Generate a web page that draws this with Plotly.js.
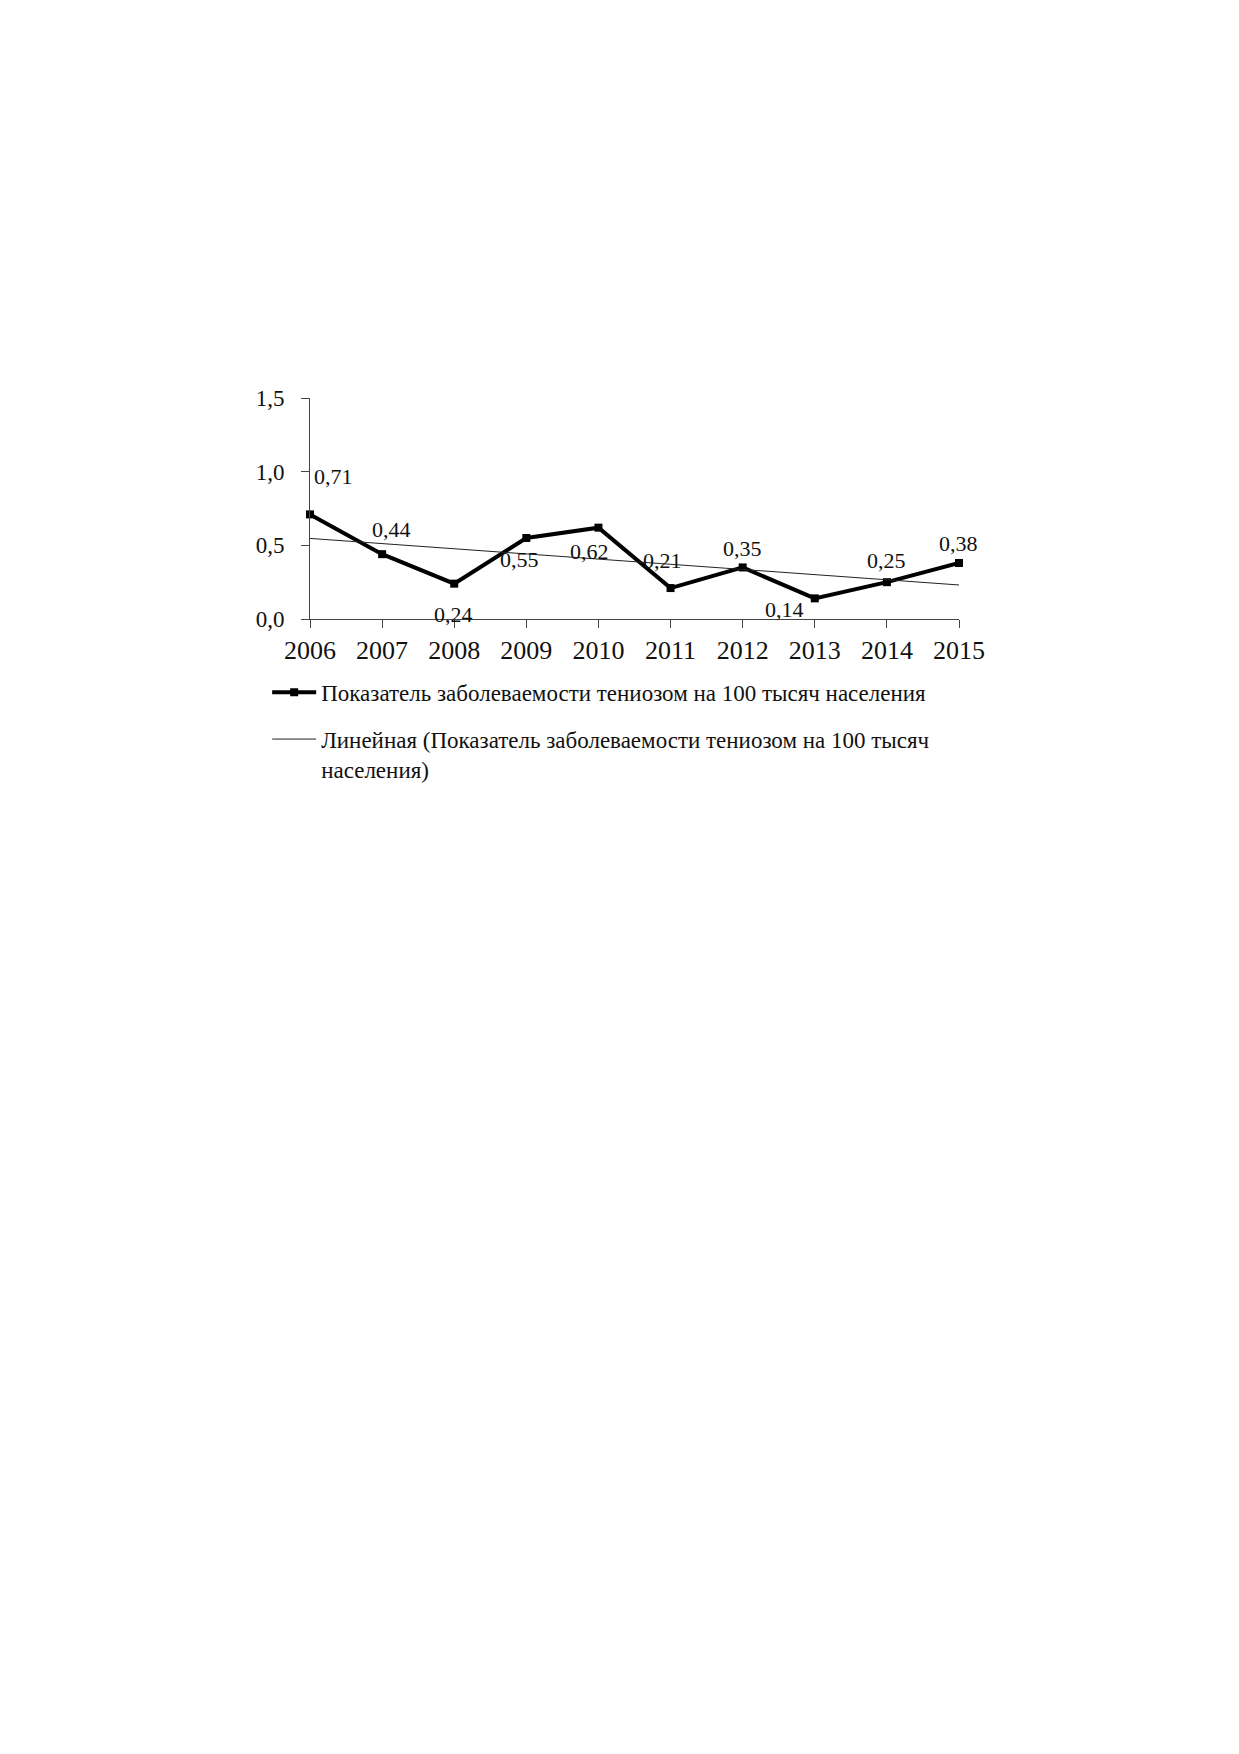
<!DOCTYPE html>
<html>
<head>
<meta charset="utf-8">
<script src="https://cdn.plot.ly/plotly-3.0.1.min.js"></script>
<style>
html,body{margin:0;padding:0;background:#fff;}
#chart{width:1239px;height:1754px;}
</style>
</head>
<body>
<div id="chart"></div>
<script>
// ---- data ----
const years = [2006, 2007, 2008, 2009, 2010, 2011, 2012, 2013, 2014, 2015];
const rates = [0.71, 0.44, 0.24, 0.55, 0.62, 0.21, 0.35, 0.14, 0.25, 0.38];
const trendYears = [2006, 2015];
const trendValues = [0.547, 0.231];
const seriesName = 'Показатель заболеваемости тениозом на 100 тысяч населения';
const trendName = 'Линейная (Показатель заболеваемости тениозом на 100 тысяч<br>населения)';
const yTicks = [0, 0.5, 1.0, 1.5];

// label placement (pixel shifts, style only)
const labelShift = [[23,38],[9,25],[-1,-31],[-7,-22],[-9,-24],[-8,28],[0,19],[-30,-11],[0,22],[-1,20]];

const FONT = 'Liberation Serif, Times New Roman, serif';
const INK = '#111111';

const traces = [
  {
    x: years, y: rates, type: 'scatter', mode: 'lines+markers',
    name: seriesName,
    line: {color: '#000', width: 4},
    marker: {symbol: 'square', size: 8, color: '#000'},
    cliponaxis: false,
    legendgroup: 'a'
  },
  {
    x: trendYears, y: trendValues, type: 'scatter', mode: 'lines',
    name: trendName,
    line: {color: '#222', width: 1},
    cliponaxis: false,
    legendgroup: 'b'
  }
];

const annotations = rates.map((v, i) => ({
  x: years[i], y: v, xref: 'x', yref: 'y',
  text: v.toFixed(2).replace('.', ','),
  showarrow: false,
  xshift: labelShift[i][0], yshift: labelShift[i][1],
  font: {family: FONT, size: 22, color: INK}
}));

const layout = {
  width: 1239, height: 1754,
  paper_bgcolor: '#fff', plot_bgcolor: '#fff',
  margin: {l: 310, r: 280, t: 398, b: 1135, pad: 0, autoexpand: false},
  separators: ', ',
  showlegend: true,
  legend: {
    x: -0.066, xref: 'paper', y: -0.234, yref: 'paper',
    xanchor: 'left', yanchor: 'top',
    orientation: 'v',
    font: {family: FONT, size: 23, color: INK},
    itemwidth: 44,
    tracegroupgap: 14,
    valign: 'top',
    bgcolor: 'rgba(0,0,0,0)'
  },
  xaxis: {
    range: [2006, 2015],
    tickvals: years,
    tickformat: 'd',
    showgrid: false, zeroline: false,
    showline: true, linecolor: '#444', linewidth: 1,
    ticks: 'outside', ticklen: 8, tickcolor: '#444', tickwidth: 1,
    tickfont: {family: FONT, size: 26, color: INK},
    ticklabelstandoff: 0,
    fixedrange: true
  },
  yaxis: {
    range: [0, 1.5],
    tickvals: yTicks,
    tickformat: '.1f',
    showgrid: false, zeroline: false,
    showline: true, linecolor: '#444', linewidth: 1,
    ticks: 'outside', ticklen: 8, tickcolor: '#444', tickwidth: 1,
    tickfont: {family: FONT, size: 23, color: INK},
    ticklabelstandoff: 12,
    fixedrange: true
  },
  annotations: annotations
};

Plotly.newPlot('chart', traces, layout, {displayModeBar: false, staticPlot: true});
</script>
</body>
</html>
